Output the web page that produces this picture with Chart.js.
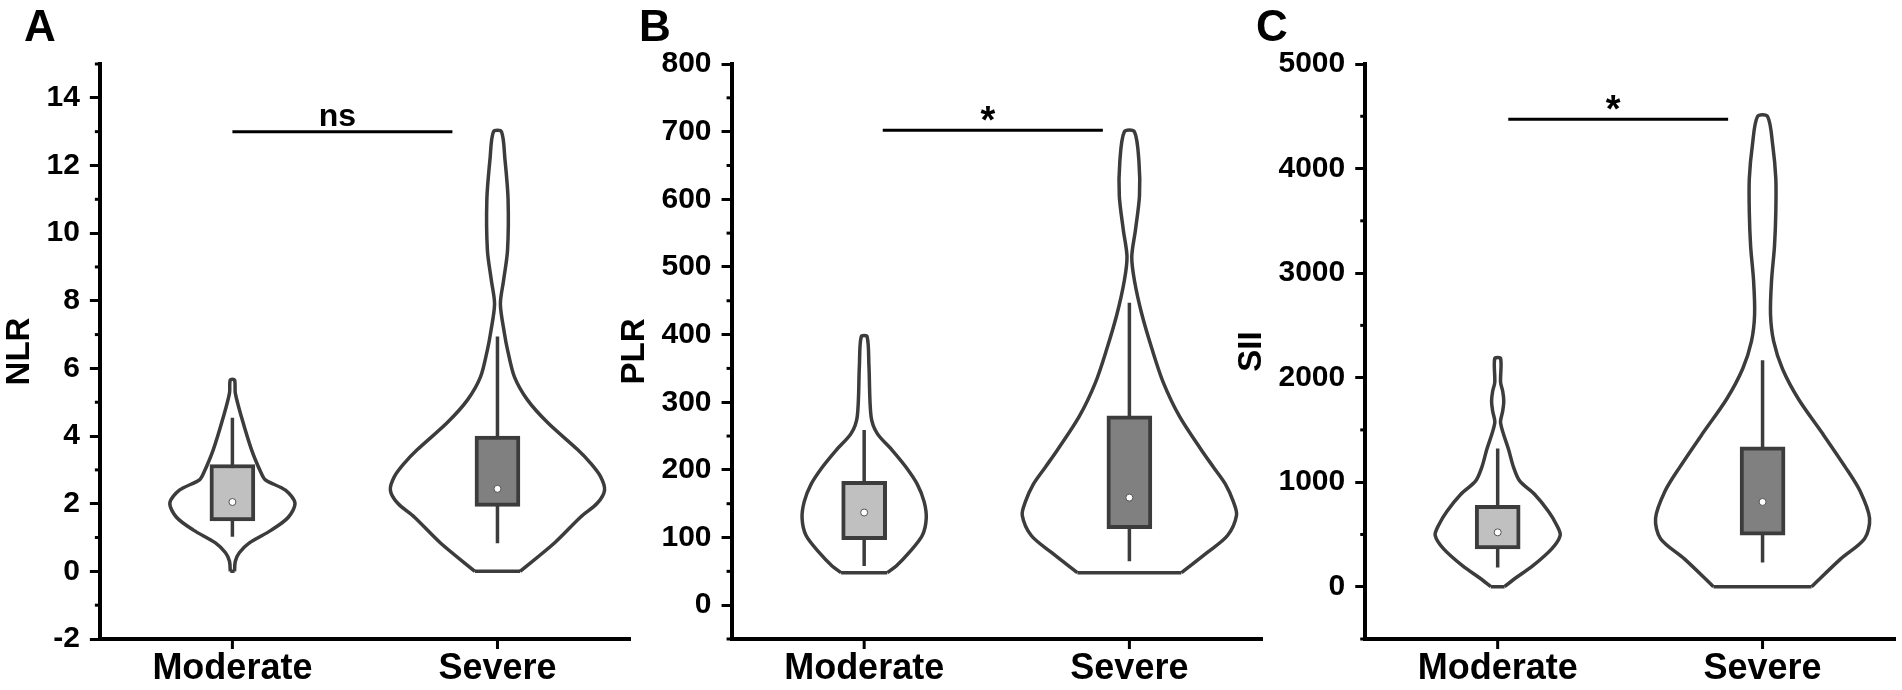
<!DOCTYPE html>
<html>
<head>
<meta charset="utf-8">
<script src="https://cdn.jsdelivr.net/npm/chart.js@4.4.1/dist/chart.umd.min.js"></script>
<style>
  html, body { margin: 0; padding: 0; background: #fff; }
  #wrap { position: relative; width: 1902px; height: 690px; overflow: hidden; }
  #wrap canvas { position: absolute; top: 0; }
</style>
</head>
<body>
<div id="wrap">
  <canvas id="nlr" width="636" height="690" style="left:0px"></canvas>
  <canvas id="plr" width="653" height="690" style="left:615px"></canvas>
  <canvas id="sii" width="669" height="690" style="left:1232px"></canvas>
</div>
<script>
var groups = ['Moderate', 'Severe'];

// y axes: range and labelled ticks
var nlrRange = [-2, 15];
var nlrTicks = [-2, 0, 2, 4, 6, 8, 10, 12, 14];
var plrRange = [-50, 800];
var plrTicks = [0, 100, 200, 300, 400, 500, 600, 700, 800];
var siiRange = [-500, 5000];
var siiTicks = [0, 1000, 2000, 3000, 4000, 5000];

// violin outlines: value levels (bottom to top) and half widths in category units
var nlrModLevels = [0, 0.3, 0.55, 0.84, 1.22, 1.6, 2.02, 2.4, 2.7, 2.9, 3.6, 4.57, 5.27, 5.66];
var nlrModHalf   = [0.008, 0.011, 0.026, 0.064, 0.147, 0.211, 0.236, 0.2, 0.125, 0.109, 0.072, 0.034, 0.011, 0.008];
var nlrSevLevels = [0, 0.84, 1.6, 2.02, 2.4, 2.8, 3.2, 3.6, 4.4, 5.07, 5.75, 6.55, 7.05, 7.9, 8.6, 9.5, 11.0, 12.2, 13.0];
var nlrSevHalf   = [0.085, 0.215, 0.313, 0.377, 0.404, 0.389, 0.351, 0.302, 0.189, 0.113, 0.064, 0.038, 0.026, 0.011, 0.023, 0.038, 0.040, 0.028, 0.015];

var plrModLevels = [48, 58, 78, 103, 128, 153, 179, 204, 229, 254, 279, 354, 397];
var plrModHalf   = [0.087, 0.121, 0.170, 0.219, 0.234, 0.226, 0.2, 0.158, 0.106, 0.049, 0.026, 0.018, 0.011];
var plrSevLevels = [48, 78, 103, 133, 153, 179, 204, 229, 279, 329, 379, 430, 480, 515, 555, 605, 656, 700];
var plrSevHalf   = [0.196, 0.294, 0.370, 0.404, 0.392, 0.362, 0.317, 0.272, 0.189, 0.128, 0.085, 0.047, 0.019, 0.009, 0.023, 0.038, 0.036, 0.019];

var siiModLevels = [0, 69, 199, 362, 492, 589, 720, 882, 1012, 1142, 1305, 1566, 1680, 1776, 1870, 1955, 2183];
var siiModHalf   = [0.026, 0.060, 0.132, 0.204, 0.236, 0.223, 0.192, 0.140, 0.083, 0.060, 0.042, 0.011, 0.019, 0.023, 0.019, 0.011, 0.011];
var siiSevLevels = [0, 264, 459, 654, 915, 1142, 1467, 1793, 2085, 2346, 2606, 2931, 3256, 3581, 3906, 4232, 4498];
var siiSevHalf   = [0.185, 0.294, 0.385, 0.404, 0.368, 0.313, 0.226, 0.136, 0.075, 0.042, 0.030, 0.034, 0.045, 0.050, 0.050, 0.038, 0.019];

// box stats per group: [q1, q3, whisker low, whisker high, median]
var nlrBoxes = [[1.49, 3.16, 1.02, 4.54, 2.05], [1.92, 4.0, 0.83, 6.94, 2.44]];
var plrBoxes = [[97, 183, 58, 259, 137], [113, 280, 65, 447, 159]];
var siiBoxes = [[362, 778, 183, 1321, 520], [492, 1337, 232, 2167, 811]];

// significance bars: NLR, PLR, SII
var sigLabels = ['ns', '*', '*'];
var sigLevels = [13.0, 702, 4472];
var sigFrom = [0, 0.07, 0.04];
var sigTo = [0.83, 0.90, 0.87];

var FONT = '"Liberation Sans", Arial, sans-serif';
var OUTLINE = '#3c3c3c';
var BOX_FILL = ['#c0c0c0', '#808080'];

Chart.defaults.color = '#000';
Chart.defaults.font.family = FONT;
Chart.defaults.font.weight = 'bold';

// left side bottom->top, then right side top->bottom; the flat bottom is drawn separately
function violinPoints(center, levels, halves) {
  var left = levels.map(function (v, i) { return { x: center - halves[i], y: v }; });
  var right = levels.map(function (v, i) { return { x: center + halves[i], y: v }; }).reverse();
  return left.concat(right);
}

var panelMarks = {
  id: 'panelMarks',
  afterDraw: function (chart, args, opts) {
    var ctx = chart.ctx, xs = chart.scales.x, ys = chart.scales.y;
    ctx.save();
    ctx.strokeStyle = '#000';
    ctx.lineWidth = 3;
    // category tick marks under the x axis
    xs.ticks.forEach(function (tk) {
      var px = xs.getPixelForValue(tk.value);
      ctx.beginPath();
      ctx.moveTo(px, ys.bottom);
      ctx.lineTo(px, ys.bottom + 10);
      ctx.stroke();
    });
    // minor ticks halfway between labelled ticks
    var t = opts.ticks, half = (t[1] - t[0]) / 2;
    for (var k = -1; t[0] + k * half <= ys.max; k += 2) {
      var v = t[0] + k * half;
      if (v < ys.min) continue;
      var py = ys.getPixelForValue(v);
      ctx.beginPath();
      ctx.moveTo(xs.left - 5, py);
      ctx.lineTo(xs.left, py);
      ctx.stroke();
    }
    // panel letter
    ctx.fillStyle = '#000';
    ctx.font = 'bold 44px ' + FONT;
    ctx.textAlign = 'left';
    ctx.textBaseline = 'alphabetic';
    ctx.fillText(opts.letter, 24, 41);
    // significance label, ink centred above the bar
    var i = opts.sig;
    var label = sigLabels[i];
    ctx.font = 'bold ' + (label === 'ns' ? 32 : 38) + 'px ' + FONT;
    ctx.textAlign = 'center';
    var m = ctx.measureText(label);
    var cx = (xs.getPixelForValue(sigFrom[i]) + xs.getPixelForValue(sigTo[i])) / 2 - 5;
    var cy = ys.getPixelForValue(sigLevels[i]) - (label === 'ns' ? 14 : 17);
    ctx.fillText(label, cx, cy + (m.actualBoundingBoxAscent - m.actualBoundingBoxDescent) / 2);
    ctx.restore();
  },
};

function violinPanel(id, letter, title, range, ticks, violins, boxes, sig) {
  var ctx = document.getElementById(id);
  if (!ctx) return;
  var datasets = [];
  violins.forEach(function (vl, g) {
    var lv = vl[0], hw = vl[1];
    datasets.push({
      type: 'line', data: violinPoints(g, lv, hw),
      borderColor: OUTLINE, borderWidth: 3.5, borderJoinStyle: 'round',
      pointRadius: 0, tension: 0.3, fill: false, order: 5,
    });
    datasets.push({
      type: 'line', data: [{ x: g - hw[0], y: lv[0] }, { x: g + hw[0], y: lv[0] }],
      borderColor: OUTLINE, borderWidth: 3.5, pointRadius: 0, order: 4,
    });
    datasets.push({
      type: 'line', data: [{ x: g, y: boxes[g][2] }, { x: g, y: boxes[g][3] }],
      borderColor: OUTLINE, borderWidth: 3.5, pointRadius: 0, order: 3,
    });
  });
  datasets.push({
    type: 'bar',
    data: boxes.map(function (b, g) { return { x: g, y: [b[0], b[1]] }; }),
    backgroundColor: BOX_FILL, borderColor: OUTLINE, borderWidth: 4, borderSkipped: false,
    barThickness: 45, order: 2,
  });
  datasets.push({
    type: 'scatter',
    data: boxes.map(function (b, g) { return { x: g, y: b[4] }; }),
    pointRadius: 3.5, pointBackgroundColor: '#fff', pointBorderColor: '#555', pointBorderWidth: 1, order: 1,
  });
  datasets.push({
    type: 'line',
    data: [{ x: sigFrom[sig], y: sigLevels[sig] }, { x: sigTo[sig], y: sigLevels[sig] }],
    borderColor: '#000', borderWidth: 3, pointRadius: 0, order: 0,
  });

  new Chart(ctx, {
    type: 'scatter',
    data: { datasets: datasets },
    plugins: [panelMarks],
    options: {
      responsive: false,
      animation: false,
      devicePixelRatio: 1,
      events: [],
      layout: { padding: { top: 64, right: 6, bottom: 0, left: 0 } },
      plugins: {
        legend: { display: false },
        tooltip: { enabled: false },
        panelMarks: { letter: letter, ticks: ticks, sig: sig },
      },
      scales: {
        x: {
          type: 'linear', min: -0.5, max: 1.5, offset: false,
          afterBuildTicks: function (s) { s.ticks = groups.map(function (_, i) { return { value: i }; }); },
          afterFit: function (s) { s.height = 51; },
          ticks: {
            color: '#000', padding: 10, maxRotation: 0,
            font: { size: 36, weight: 'bold', lineHeight: 1.1 },
            callback: function (v) { return groups[v]; },
          },
          // tick marks are drawn by panelMarks at the category centres
          grid: { display: true, drawOnChartArea: false, drawTicks: false },
          border: { display: true, width: 4, color: '#000' },
        },
        y: {
          type: 'linear', min: range[0], max: range[1],
          afterBuildTicks: function (s) { s.ticks = ticks.map(function (v) { return { value: v }; }); },
          ticks: {
            color: '#000', padding: 10,
            font: { size: 30, weight: 'bold' },
            callback: function (v) { return String(v); },
          },
          title: {
            display: true, text: title, color: '#000',
            font: { size: 33, weight: 'bold', lineHeight: 1 },
            padding: { top: 3.5, bottom: 0 },
          },
          grid: { drawOnChartArea: false, drawTicks: true, tickLength: 10, tickWidth: 3, tickColor: '#000' },
          border: { display: true, width: 4, color: '#000' },
        },
      },
    },
  });
}

violinPanel('nlr', 'A', 'NLR', nlrRange, nlrTicks,
  [[nlrModLevels, nlrModHalf], [nlrSevLevels, nlrSevHalf]], nlrBoxes, 0);
violinPanel('plr', 'B', 'PLR', plrRange, plrTicks,
  [[plrModLevels, plrModHalf], [plrSevLevels, plrSevHalf]], plrBoxes, 1);
violinPanel('sii', 'C', 'SII', siiRange, siiTicks,
  [[siiModLevels, siiModHalf], [siiSevLevels, siiSevHalf]], siiBoxes, 2);
</script>
</body>
</html>
